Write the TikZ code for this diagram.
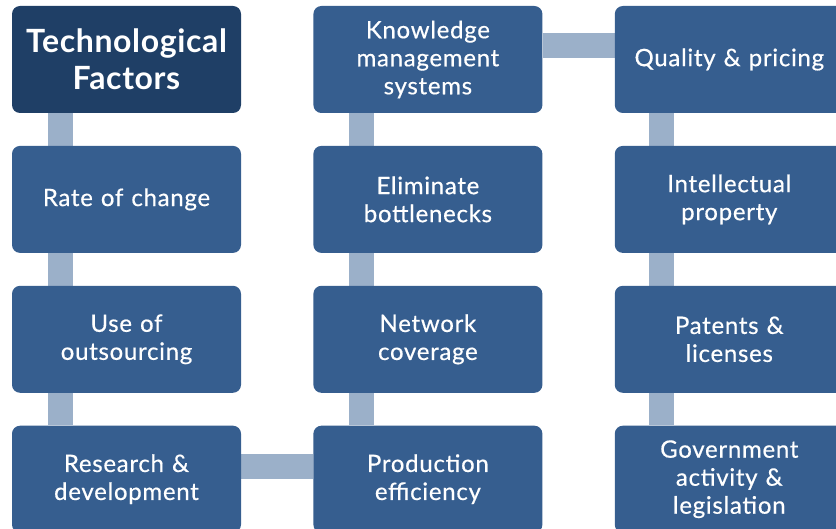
\documentclass[tikz,border=0pt]{standalone}
\usepackage{fontspec}
\setmainfont{Lato}[LetterSpace=3, FakeBold=0.5]
\newfontfamily\titlefont{Lato}[LetterSpace=2, BoldFont=* Bold]
\usepackage{tikz}
\usetikzlibrary{positioning,backgrounds}
\definecolor{navy}{HTML}{1F3F66}
\definecolor{steel}{HTML}{365E8F}
\definecolor{linkgray}{HTML}{9BB0C9}
\tikzstyle{factor} = [rectangle, rounded corners=8pt, minimum width=229pt, minimum height=107pt, text width=225pt, inner sep=0pt, align=center, fill=steel, text=white, font=\fontsize{24}{28}\selectfont]
\tikzstyle{titlebox} = [factor, fill=navy, font=\titlefont\fontsize{32}{37}\selectfont\bfseries]
\tikzstyle{link} = [draw=linkgray, line width=25pt]

\begin{document}
\begin{tikzpicture}[x=1pt, y=-1pt, node distance=32.5pt and 72pt]
    \useasboundingbox (0,0) rectangle (836,529);
    % Column 1
    \node (title) [titlebox] at (126.5,59.5) {Technological\\Factors};
    \node (rate) [factor, below=of title] {Rate of change};
    \node (outsrc) [factor, below=of rate] {Use of\\outsourcing};
    \node (rnd) [factor, below=of outsrc] {Research \&\\development};
    % Column 2
    \node (prod) [factor, right=of rnd] {Production\\efficiency};
    \node (network) [factor, right=of outsrc] {Network\\coverage};
    \node (bottle) [factor, right=of rate] {Eliminate\\bottlenecks};
    \node (knowledge) [factor, right=of title] {Knowledge\\management\\systems};
    % Column 3
    \node (quality) [factor, right=of knowledge] {Quality \& pricing};
    \node (ip) [factor, right=of bottle] {Intellectual\\property};
    \node (patents) [factor, right=of network] {Patents \&\\licenses};
    \node (govt) [factor, right=of prod] {Government\\activity \&\\legislation};

    % Links
    \begin{pgfonlayer}{background}
    \draw [link] ([xshift=-66pt]title.south) -- ([xshift=-66pt]rate.north);
    \draw [link] ([xshift=-66pt]rate.south) -- ([xshift=-66pt]outsrc.north);
    \draw [link] ([xshift=-66pt]outsrc.south) -- ([xshift=-66pt]rnd.north);
    \draw [link] ([yshift=13pt]rnd.east) -- ([yshift=13pt]prod.west);
    \draw [link] ([xshift=-66pt]prod.north) -- ([xshift=-66pt]network.south);
    \draw [link] ([xshift=-66pt]network.north) -- ([xshift=-66pt]bottle.south);
    \draw [link] ([xshift=-66pt]bottle.north) -- ([xshift=-66pt]knowledge.south);
    \draw [link] ([yshift=14pt]knowledge.east) -- ([yshift=14pt]quality.west);
    \draw [link] ([xshift=-68pt]quality.south) -- ([xshift=-68pt]ip.north);
    \draw [link] ([xshift=-68pt]ip.south) -- ([xshift=-68pt]patents.north);
    \draw [link] ([xshift=-68pt]patents.south) -- ([xshift=-68pt]govt.north);
    \end{pgfonlayer}
\end{tikzpicture}
\end{document}
